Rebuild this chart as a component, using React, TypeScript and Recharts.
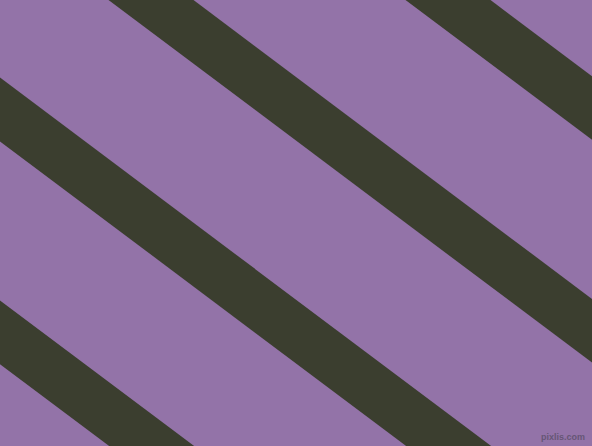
import { LineChart, Line, XAxis, YAxis } from 'recharts'

// x where each stripe's centre line meets the top edge
const stripeOffsets = [-443, -146, 151, 448]
const stripeSlope = 0.75
const stripeEnds = [-200, 800]

const BG = '#9373a8'
const STRIPE = '#3b3e2f'

function stripeData(offset: number) {
  return stripeEnds.map((x) => ({ x, y: stripeSlope * (x - offset) }))
}

export default function App() {
  return (
    <div
      style={{
        position: 'fixed',
        top: 0,
        left: 0,
        width: 592,
        height: 446,
        background: BG,
        overflow: 'hidden',
      }}
    >
      <LineChart width={592} height={446} margin={{ top: 0, right: 0, bottom: 0, left: 0 }}>
        <XAxis type="number" dataKey="x" domain={[0, 592]} allowDataOverflow hide />
        <YAxis type="number" domain={[0, 446]} reversed allowDataOverflow hide width={0} />
        {stripeOffsets.map((o) => (
          <Line
            key={o}
            data={stripeData(o)}
            dataKey="y"
            stroke={STRIPE}
            strokeWidth={51}
            dot={false}
            activeDot={false}
            isAnimationActive={false}
          />
        ))}
      </LineChart>
      <div
        style={{
          position: 'absolute',
          right: 7,
          top: 432,
          fontFamily: 'Liberation Sans, sans-serif',
          fontSize: 9,
          fontWeight: 'bold',
          color: '#665676',
          whiteSpace: 'nowrap',
          lineHeight: '11px',
        }}
      >
        pixlis.com
      </div>
    </div>
  )
}
